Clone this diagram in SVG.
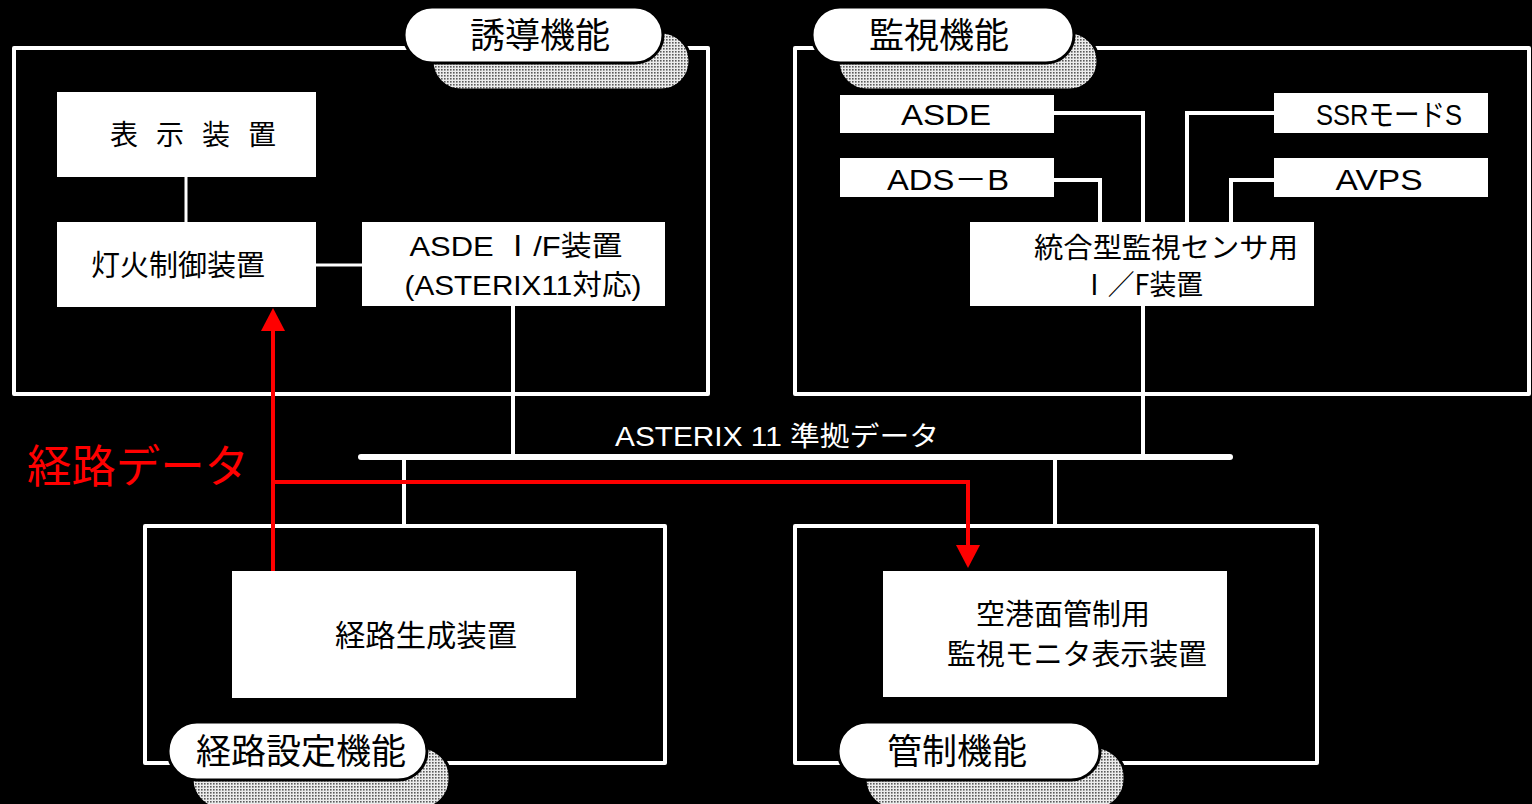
<svg xmlns="http://www.w3.org/2000/svg" width="1532" height="804" viewBox="0 0 1532 804">
<defs>
<pattern id="dots" width="3" height="3" patternUnits="userSpaceOnUse">
<rect width="3" height="3" fill="#ececec"/>
<rect width="1.6" height="1.6" fill="#5a5a5a"/>
</pattern>
<marker id="arr" viewBox="0 0 23 24" markerWidth="23" markerHeight="24" refX="0" refY="12" orient="auto" markerUnits="userSpaceOnUse">
<path d="M0,0 L23,12 L0,24 Z" fill="#ff0000"/>
</marker>
</defs>
<style>
.frame{fill:none;stroke:#fff;stroke-width:4;stroke-linejoin:round}
.box{fill:#fff}
.shadow{fill:url(#dots);stroke:#000;stroke-width:3}
.pill{fill:#fff;stroke:#000;stroke-width:3}
.ln{fill:none;stroke:#fff;stroke-width:3}
.ln4{fill:none;stroke:#fff;stroke-width:4}
.bus{fill:none;stroke:#fff;stroke-width:6;stroke-linecap:round}
.red{fill:none;stroke:#ff0000;stroke-width:4}
.jp{font-family:"Noto Sans CJK JP","Noto Sans",sans-serif;fill:#000}
.lat{font-family:"Liberation Sans","Noto Sans CJK JP",sans-serif;fill:#000}
.title{font-family:"Noto Sans CJK JP",sans-serif;font-size:35px;fill:#000;text-anchor:middle}
</style>
<rect width="1532" height="804" fill="#000"/>

<g id="frames">
<rect id="frame-yudo" class="frame" x="14" y="48" width="694" height="346"/>
<rect id="frame-kanshi" class="frame" x="795" y="48" width="734" height="346"/>
<rect id="frame-keiro" class="frame" x="145" y="526" width="520" height="237"/>
<rect id="frame-kansei" class="frame" x="795" y="526" width="522" height="237"/>
</g>

<g id="connectors">
<path class="ln" d="M186,177 V222"/>
<path class="ln" d="M316,265 H362"/>
<path class="ln4" d="M513,306 V456"/>
<path class="ln4" d="M1054,113 H1143 V222"/>
<path class="ln4" d="M1054,180 H1100 V222"/>
<path class="ln4" d="M1274,113 H1187 V222"/>
<path class="ln4" d="M1274,180 H1231 V222"/>
<path class="ln4" d="M1143,306 V456"/>
<path class="ln4" d="M404,456 V526"/>
<path class="ln4" d="M1055,456 V526"/>
<path class="bus" d="M361,457 H1230"/>
<path class="red" d="M273,571 V331" marker-end="url(#arr)"/>
<path class="red" d="M273,482 H968 V545" marker-end="url(#arr)"/>
<text x="777" y="446" font-family="'Liberation Sans','Noto Sans CJK JP',sans-serif" font-size="27" fill="#fff" text-anchor="middle" textLength="324" lengthAdjust="spacingAndGlyphs">ASTERIX 11 準拠データ</text>
<text x="138" y="483" font-family="'Noto Sans CJK JP',sans-serif" font-size="45" fill="#ff0000" text-anchor="middle" textLength="222" lengthAdjust="spacingAndGlyphs">経路データ</text>
</g>

<g id="label-yudo">
<rect class="shadow" x="432" y="32" width="258" height="58" rx="29"/>
<rect class="pill" x="404" y="7" width="259" height="56" rx="28"/>
<text class="title" x="540" y="48">誘導機能</text>
</g>
<g id="label-kanshi">
<rect class="shadow" x="838" y="32" width="260" height="58" rx="29"/>
<rect class="pill" x="812" y="7" width="262" height="56" rx="28"/>
<text class="title" x="939" y="48">監視機能</text>
</g>
<g id="label-keiro">
<rect class="shadow" x="192" y="747" width="258" height="62" rx="30"/>
<rect class="pill" x="168" y="722" width="259" height="58" rx="29"/>
<text class="title" x="301" y="764">経路設定機能</text>
</g>
<g id="label-kansei">
<rect class="shadow" x="865" y="747" width="260" height="62" rx="30"/>
<rect class="pill" x="838" y="722" width="262" height="58" rx="29"/>
<text class="title" x="957" y="764">管制機能</text>
</g>

<g id="node-hyoji">
<rect class="box" x="57" y="92" width="259" height="85"/>
<text class="jp" x="193" y="145" font-size="28" text-anchor="middle" textLength="166" lengthAdjust="spacing">表示装置</text>
</g>
<g id="node-toka">
<rect class="box" x="57" y="222" width="259" height="85"/>
<text class="jp" x="178" y="276" font-size="29" text-anchor="middle">灯火制御装置</text>
</g>
<g id="node-asde-if">
<rect class="box" x="362" y="222" width="303" height="84"/>
<text class="lat" x="516" y="256" font-size="28" text-anchor="middle" textLength="213" lengthAdjust="spacingAndGlyphs">ASDE Ⅰ/F装置</text>
<text class="lat" x="523" y="295" font-size="28" text-anchor="middle" textLength="237" lengthAdjust="spacingAndGlyphs">(ASTERIX11対応)</text>
</g>
<g id="node-asde">
<rect class="box" x="840" y="95" width="214" height="38"/>
<text class="lat" x="946" y="125" font-size="29" text-anchor="middle" textLength="90" lengthAdjust="spacingAndGlyphs">ASDE</text>
</g>
<g id="node-adsb">
<rect class="box" x="840" y="158" width="214" height="39"/>
<text class="lat" x="948" y="190" font-size="29" text-anchor="middle" textLength="122" lengthAdjust="spacingAndGlyphs">ADS－B</text>
</g>
<g id="node-ssr">
<rect class="box" x="1274" y="93" width="214" height="40"/>
<text class="lat" x="1389" y="125" font-size="30" text-anchor="middle" textLength="146" lengthAdjust="spacingAndGlyphs">SSRモードS</text>
</g>
<g id="node-avps">
<rect class="box" x="1274" y="158" width="214" height="39"/>
<text class="lat" x="1379" y="190" font-size="29" text-anchor="middle" textLength="87" lengthAdjust="spacingAndGlyphs">AVPS</text>
</g>
<g id="node-togo">
<rect class="box" x="970" y="222" width="344" height="84"/>
<text class="jp" x="1166" y="258" font-size="28" text-anchor="middle" textLength="264" lengthAdjust="spacingAndGlyphs">統合型監視センサ用</text>
<text class="jp" x="1142" y="295" font-size="28" text-anchor="middle" textLength="122" lengthAdjust="spacingAndGlyphs">Ⅰ／F装置</text>
</g>
<g id="node-keiro-seisei">
<rect class="box" x="232" y="571" width="344" height="127"/>
<text class="jp" x="426" y="646" font-size="30" text-anchor="middle" textLength="182" lengthAdjust="spacingAndGlyphs">経路生成装置</text>
</g>
<g id="node-monitor">
<rect class="box" x="883" y="571" width="344" height="126"/>
<text class="jp" x="1063" y="625" font-size="29" text-anchor="middle">空港面管制用</text>
<text class="jp" x="1077" y="665" font-size="29" text-anchor="middle" textLength="260" lengthAdjust="spacingAndGlyphs">監視モニタ表示装置</text>
</g>
</svg>
